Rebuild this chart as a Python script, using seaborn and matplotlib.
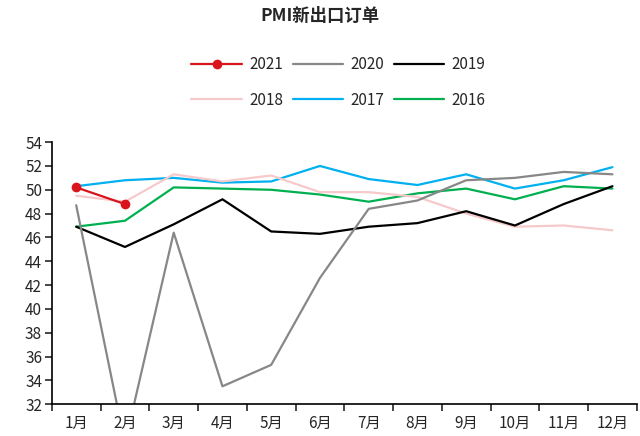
import pandas as pd
import matplotlib.pyplot as plt
import seaborn as sns

months = [f'{i}月' for i in range(1, 13)]
years = ['2021', '2020', '2019', '2018', '2017', '2016']

v2021 = [50.2, 48.8]
v2020 = [48.7, 28.7, 46.4, 33.5, 35.3, 42.6, 48.4, 49.1, 50.8, 51.0, 51.5, 51.3]
v2019 = [46.9, 45.2, 47.1, 49.2, 46.5, 46.3, 46.9, 47.2, 48.2, 47.0, 48.8, 50.3]
v2018 = [49.5, 49.0, 51.3, 50.7, 51.2, 49.8, 49.8, 49.4, 48.0, 46.9, 47.0, 46.6]
v2017 = [50.3, 50.8, 51.0, 50.6, 50.7, 52.0, 50.9, 50.4, 51.3, 50.1, 50.8, 51.9]
v2016 = [46.9, 47.4, 50.2, 50.1, 50.0, 49.6, 49.0, 49.7, 50.1, 49.2, 50.3, 50.1]

series = {'2021': v2021, '2020': v2020, '2019': v2019,
          '2018': v2018, '2017': v2017, '2016': v2016}
colors = {'2021': '#D9141C', '2020': '#878787', '2019': '#000000',
          '2018': '#F6C9CB', '2017': '#00B0F0', '2016': '#00B050'}

rows = []
for y, vals in series.items():
    for i, v in enumerate(vals):
        rows.append((y, i, v))
df = pd.DataFrame(rows, columns=['year', 'month', 'value'])

sns.set_theme(style='ticks')
plt.rcParams['font.family'] = ['Noto Sans CJK SC', 'DejaVu Sans']

fig, ax = plt.subplots(figsize=(6.4, 4.36), dpi=100)
fig.subplots_adjust(left=0.081, right=0.995, bottom=0.073, top=0.674)

# older years first so 2021 ends up on top
for y in years[::-1]:
    sub = df[df['year'] == y]
    sns.lineplot(data=sub, x='month', y='value', ax=ax, color=colors[y],
                 linewidth=1.6, label=y,
                 marker='o' if y == '2021' else None, markersize=7,
                 markeredgewidth=0)

ax.set_xlim(-0.5, 11.5)
ax.set_ylim(32, 54)
ax.set_yticks(range(32, 55, 2))
ax.set_xticks([i + 0.5 for i in range(-1, 12)], minor=False)
ax.set_xticklabels([])
ax.set_xticks(range(12), minor=True)
ax.set_xticklabels(months, minor=True)
ax.tick_params(axis='x', which='minor', length=0, labelsize=11, pad=8)
ax.tick_params(axis='x', which='major', length=5, width=1.2, direction='out')
ax.tick_params(axis='y', length=5, width=1.2, labelsize=11, pad=2)
ax.set_xlabel('')
ax.set_ylabel('')
for s in ['top', 'right']:
    ax.spines[s].set_visible(False)
for s in ['left', 'bottom']:
    ax.spines[s].set_linewidth(1.2)
    ax.spines[s].set_color('#000000')

handles, labels = ax.get_legend_handles_labels()
hmap = dict(zip(labels, handles))
order = ['2021', '2018', '2020', '2017', '2019', '2016']
ax.legend([hmap[k] for k in order], order, ncol=3, loc='lower center',
          bbox_to_anchor=(0.49, 1.075), frameon=False, fontsize=11,
          handlelength=3.3, handletextpad=0.5, columnspacing=0.6,
          labelspacing=1.2)

fig.suptitle('PMI新出口订单', fontsize=12.5, fontweight='bold', y=0.985, x=0.5)

fig.savefig('out.png', dpi=100)
